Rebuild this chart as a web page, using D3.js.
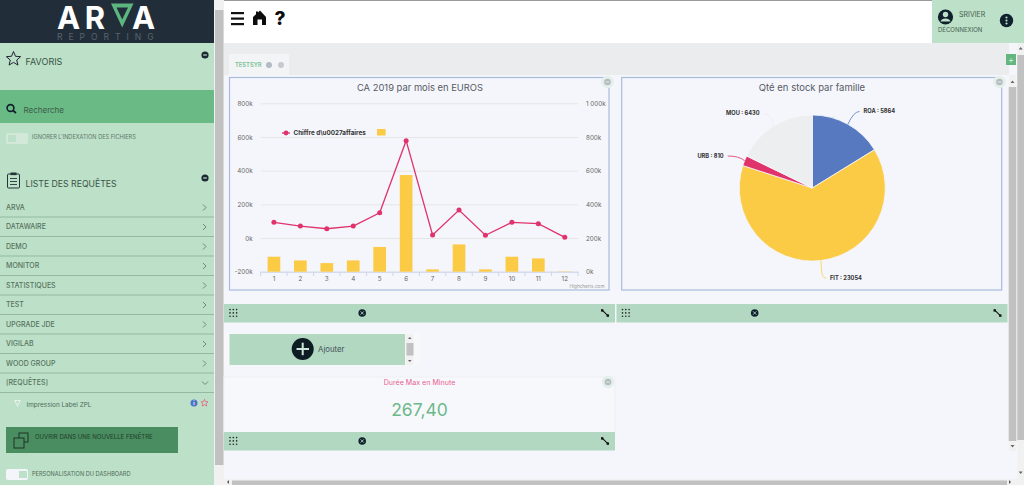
<!DOCTYPE html>
<html><head><meta charset="utf-8">
<script src="https://cdn.jsdelivr.net/npm/d3@7"></script>
<style>html,body{margin:0;padding:0;background:#f5f6fb;overflow:hidden}svg{display:block}text{font-family:Inter,"Noto Sans",sans-serif}</style>
</head><body><svg id="c" width="1024" height="485"></svg>
<script>
const months=["1","2","3","4","5","6","7","8","9","10","11","12"];
const caValues=[93,71,55,71,150,578,18,166,16,93,85,4];
const barValues=[89,67,51,67,147,574,14,162,14,89,79,2];
const leftTicks=[-200,0,200,400,600,800];
const rightTicks=[0,200,400,600,800,1000];
const rightTickLabels=["0k","200k","400k","600k","800k","1 000k"];
const families=["ROA","FIT","URB","MOU"];
const stock=[5864,23054,810,6430];
const familyColors=["#5779c0","#fbcb46","#e0336c","#edeef0"];
const menu=["ARVA","DATAWAIRE","DEMO","MONITOR","STATISTIQUES","TEST","UPGRADE JDE","VIGILAB","WOOD GROUP","[REQUÊTES]"];

const svg=d3.select("#c");
const rect=(x,y,w,h,f,g=svg)=>g.append("rect").attr("x",x).attr("y",y).attr("width",w).attr("height",h).attr("fill",f);
const text=(s,x,y,size,fill,o={},g=svg)=>{const t=g.append("text").attr("x",x).attr("y",y).attr("dy",".35em").attr("font-size",size).attr("fill",fill).text(s);
 Object.entries(o).forEach(([k,v])=>t.attr(k,v));return t;};

/* page shell */
rect(0,0,1024,485,"#f5f6fb");
rect(224,0,708,43,"#ffffff");
rect(224,0,800,1,"#9a9a9a");
rect(932,0,92,43,"#bde0c8");
rect(224,43,785,32,"#ebecee");
rect(229,54,60,21,"#f3f4f6");
text("TESTSYR",235,64.5,5.8,"#7cc297",{"font-weight":600});
svg.append("circle").attr("cx",269).attr("cy",65).attr("r",3).attr("fill","#b4bac6");
svg.append("circle").attr("cx",281).attr("cy",65).attr("r",3).attr("fill","#c6c9cf");
rect(1006,54,10,11,"#62b67e");
text("+",1011,59.5,9,"#d8efdf",{"text-anchor":"middle"});

/* top bar icons */
[13,18.5,24].forEach(y=>rect(231,y-1,13,2.2,"#111"));
svg.append("path").attr("d","M253 25V17L256 14.2V11.5H258V12.4L260 10.5L266 17V25H262V19.5H257.5V25Z").attr("fill","#0c0c0c");
text("?",280,18.5,19,"#0c0c0c",{"text-anchor":"middle","font-weight":800});
svg.append("circle").attr("cx",945.5).attr("cy",17).attr("r",7.6).attr("fill","#10202c");
svg.append("circle").attr("cx",945.5).attr("cy",14.5).attr("r",2.7).attr("fill","#bde0c8");
svg.append("path").attr("d","M940.5 21.5a5.2 4 0 0 1 10 0Z").attr("fill","#bde0c8");
text("SRIVIER",959,14.5,7,"#46604f");
text("DÉCONNEXION",938,30,6,"#46604f");
svg.append("circle").attr("cx",1006.5).attr("cy",20.5).attr("r",6.7).attr("fill","#10202c");
[17.5,20.5,23.5].forEach(y=>svg.append("circle").attr("cx",1006.5).attr("cy",y).attr("r",1.1).attr("fill","#bde0c8"));

/* sidebar */
rect(0,0,214,485,"#bde0c8");
rect(0,0,214,43,"#212e3a");
rect(214,0,10,485,"#f1f1f1");
rect(215,10,8.5,455,"#c1c1c1");
[["A",68.5],["R",95],["A",143.5]].forEach(([l,x])=>text(l,x,28.5,31,"#ffffff",{"text-anchor":"middle","font-weight":700,"dy":0,"font-family":"Liberation Sans"}));
svg.append("path").attr("d","M111 3.5H133.5L122.2 27.5Z M116.5 7.5L122.2 19.5L128 7.5Z").attr("fill","#5cb67e").attr("fill-rule","evenodd");
text("REPORTING",57,37,8.5,"#59636c",{"letter-spacing":"6px"});
const star=(cx,cy,r,stroke,sw)=>{const pts=d3.range(10).map(i=>{const a=i*Math.PI/5,q=i%2?r*.45:r;return [cx+q*Math.sin(a),cy-q*Math.cos(a)];});
 svg.append("path").attr("d","M"+pts.join("L")+"Z").attr("fill","none").attr("stroke",stroke).attr("stroke-width",sw);};
star(13.5,59,7.5,"#223",1);
text("FAVORIS",25.5,61.5,9,"#3a5445");
const minus=(x,y)=>{svg.append("circle").attr("cx",x).attr("cy",y).attr("r",3.6).attr("fill","#1b2a30");rect(x-1.8,y-.6,3.6,1.2,"#bde0c8");};
minus(205,55);minus(205,178);
rect(0,90,214,33,"#6aba85");
svg.append("circle").attr("cx",10.5).attr("cy",108).attr("r",3.4).attr("fill","none").attr("stroke","#10202c").attr("stroke-width",1.6);
svg.append("line").attr("x1",13).attr("y1",110.5).attr("x2",16).attr("y2",113).attr("stroke","#10202c").attr("stroke-width",1.8);
text("Recherche",23.5,110,8,"#3d5a49");
rect(6,133,22,11,"#d2e9da").attr("rx",2);rect(8,135,8,7,"#bde0c8");
text("IGNORER L'INDEXATION DES FICHIERS",32,137,5.6,"#5d7768");
svg.append("rect").attr("x",7.5).attr("y",174).attr("width",12).attr("height",14).attr("rx",1).attr("fill","none").attr("stroke","#24343a").attr("stroke-width",1);
rect(10.5,172.5,6,2.6,"#24343a");
[178,181,184].forEach(y=>rect(10,y,7,.9,"#24343a"));
text("LISTE DES REQUÊTES",25.5,184,8.7,"#3a5445");
const rowY=d3.scalePoint().domain(menu).range([207.5,383]);
menu.forEach((m,i)=>{const y=rowY(m);
 text(m,6,y,7,"#56735f",{"font-weight":500});
 const open=i===menu.length-1;
 svg.append("path").attr("d",open?`M202 ${y-1.5}L205 ${y+1.5}L208 ${y-1.5}`:`M203 ${y-3}L206 ${y}L203 ${y+3}`).attr("fill","none").attr("stroke","#6e8a78").attr("stroke-width",1);
 rect(0,y+9,214,1,"#94b9a2");
});
svg.append("path").attr("d","M14 400H21L17.5 407Z M15.5 401L17.5 405L19.5 401Z").attr("fill","#e7f3ec").attr("fill-rule","evenodd");
text("Impression Label ZPL",26.5,405,6.4,"#4f6c5a");
svg.append("circle").attr("cx",194).attr("cy",403).attr("r",3.5).attr("fill","#4c74c4");
text("i",194,403,5,"#fff",{"text-anchor":"middle","font-weight":700});
star(204.5,403,3.7,"#e0607f",.8);
rect(6,427,172,26,"#4a8d60");
svg.append("rect").attr("x",19).attr("y",433).attr("width",9).attr("height",9).attr("fill","none").attr("stroke","#1c3327");
svg.append("rect").attr("x",14).attr("y",438).attr("width",10,).attr("height",10).attr("fill","#4a8d60").attr("stroke","#1c3327");
text("OUVRIR DANS UNE NOUVELLE FENÊTRE",35,436.5,6.05,"#1f3d2b");
rect(6,469,22,11,"#f3f5fb").attr("rx",2);rect(19,471,8,7,"#bde0c8");
text("PERSONALISATION DU DASHBOARD",32,474,5.65,"#4f6c5a");

/* combined chart */
const frame=(x,y,w,h)=>svg.append("rect").attr("x",x).attr("y",y).attr("width",w).attr("height",h).attr("fill","#f5f6fb").attr("stroke","#a9bcdc").attr("stroke-width",1.2);
frame(229.5,77.5,379.5,212.5);
text("CA 2019 par mois en EUROS",420,87.5,9.4,"#555b66",{"text-anchor":"middle"});
const x=d3.scaleBand().domain(months).range([260.7,578]);
const yL=d3.scaleLinear().domain([-200,800]).range([271.7,103.3]);
const yR=d3.scaleLinear().domain([0,1000]).range([271.7,103.3]);
const gridG=svg.append("g").attr("transform","translate(260.7,0)")
 .call(d3.axisLeft(yL).tickValues(leftTicks).tickSize(-317.3).tickPadding(8).tickFormat(d=>d+"k"));
gridG.select(".domain").remove();
gridG.selectAll(".tick line").attr("stroke","#e6e6e6");
gridG.selectAll("text").attr("font-size",6.3).attr("fill","#666").attr("font-family",null);
const rg=svg.append("g").attr("transform","translate(578,0)")
 .call(d3.axisRight(yR).tickValues(rightTicks).tickSize(0).tickPadding(8).tickFormat((d,i)=>rightTickLabels[i]));
rg.select(".domain").remove();
rg.selectAll("text").attr("font-size",6.3).attr("fill","#666").attr("font-family",null);
const xg=svg.append("g").attr("transform","translate(0,271.7)").call(d3.axisBottom(x).tickSize(0).tickPadding(5));
xg.select(".domain").attr("stroke","#ccd6eb");
xg.selectAll("text").attr("font-size",6.3).attr("fill","#666").attr("font-family",null);
months.concat(["end"]).forEach((m,i)=>{const px=i<12?x(m):x.range()[1];
 svg.append("line").attr("x1",px).attr("x2",px).attr("y1",271.7).attr("y2",276).attr("stroke","#ccd6eb");});
svg.append("g").selectAll("rect").data(barValues).join("rect")
 .attr("x",(d,i)=>x(months[i])+x.bandwidth()*.26).attr("width",x.bandwidth()*.48)
 .attr("y",d=>yR(d)).attr("height",d=>yR(0)-yR(d)).attr("fill","#fbcb46");
const cx=(d,i)=>x(months[i])+x.bandwidth()/2;
svg.append("path").attr("d",d3.line().x(cx).y(d=>yL(d))(caValues)).attr("fill","none").attr("stroke","#e0336c").attr("stroke-width",1.3);
svg.append("g").selectAll("circle").data(caValues).join("circle").attr("cx",cx).attr("cy",d=>yL(d)).attr("r",2.5).attr("fill","#e0336c");
svg.append("line").attr("x1",282).attr("x2",290).attr("y1",133).attr("y2",133).attr("stroke","#e0336c").attr("stroke-width",1.3);
svg.append("circle").attr("cx",286).attr("cy",133).attr("r",2.4).attr("fill","#e0336c");
text("Chiffre d\\u0027affaires",293.5,133,6.3,"#333",{"font-weight":700});
rect(377,129,8.6,6.5,"#fbcb46");
text("Highcharts.com",604.5,286.5,4.7,"#999",{"text-anchor":"end"});

/* pie chart */
frame(621.7,77.5,380,212.5);
text("Qté en stock par famille",812,87.5,9.5,"#555b66",{"text-anchor":"middle"});
const pieG=svg.append("g").attr("transform","translate(812.3,188)");
const arcs=d3.pie().sort(null)(stock);
const R=73, arc=d3.arc().innerRadius(0).outerRadius(R);
pieG.selectAll("path").data(arcs).join("path").attr("d",arc).attr("fill",(d,i)=>familyColors[i]).attr("stroke","#f5f6fb").attr("stroke-width",.8);
const labelPos=[[863.5,111.5,"start"],[830,278,"start"],[723.7,156,"end"],[759.5,113.5,"end"]];
arcs.forEach((a,i)=>{const m=(a.startAngle+a.endAngle)/2,p=[812.3+R*Math.sin(m),188-R*Math.cos(m)];
 const [lx,ly,anc]=labelPos[i],ex=lx+(anc==="start"?-4:4);
 const d=i===1?`M${p} C${p[0]+.5},${ly-8} ${ex-5},${ly} ${ex},${ly}`:`M${p} Q${(p[0]+ex)/2+(anc==="start"?0:3)},${ly} ${ex},${ly}`;
 svg.append("path").attr("d",d).attr("fill","none").attr("stroke",i===3?"#edeef0":familyColors[i]).attr("stroke-width",.8);
 text(`${families[i]} : ${stock[i]}`,lx,ly,5.7,"#333",{"text-anchor":anc,"font-weight":700});
});
const corner=(x0,y0)=>{svg.append("circle").attr("cx",x0).attr("cy",y0).attr("r",6.2).attr("fill","#e4efea");
 svg.append("circle").attr("cx",x0).attr("cy",y0).attr("r",3.3).attr("fill","#b4bcc0");
 rect(x0-1.8,y0-.45,3.6,.9,"#e4efea");};
corner(607.5,82);corner(999.5,82);

/* toolbars */
const toolbar=(x0,y0,w)=>{rect(x0,y0,w,18.5,"#b2d8c2");
 d3.range(3).forEach(a=>d3.range(3).forEach(b=>svg.append("circle").attr("cx",x0+6+a*3.3).attr("cy",y0+5.6+b*3.3).attr("r",.8).attr("fill","#222")));
 const mx=x0+138.2;
 svg.append("circle").attr("cx",mx).attr("cy",y0+9).attr("r",3.8).attr("fill","#10202c");
 svg.append("path").attr("d",`M${mx-1.6} ${y0+7.4}L${mx+1.6} ${y0+10.6}M${mx+1.6} ${y0+7.4}L${mx-1.6} ${y0+10.6}`).attr("stroke","#b2d8c2").attr("stroke-width",.9);
 svg.append("path").attr("d",`M${x0+w-12.8} ${y0+6.2}L${x0+w-7.2} ${y0+11.6}`).attr("stroke","#111").attr("stroke-width",1.1);
 rect(x0+w-14,y0+5.2,2.4,2.4,"#111");rect(x0+w-8.4,y0+10.4,2.4,2.4,"#111");
};
toolbar(224,304,391);toolbar(616.5,304,391);

/* add button */
rect(224,333,196,32.5,"#f8f8fb");
rect(229.5,334,175.5,31,"#b2d8c2");
rect(405.5,334,8,31,"#f1f1f1");
rect(406.5,343,7,12.5,"#c1c1c1");
svg.append("path").attr("d","M409.8 337l1.8 2h-3.6ZM409.8 362l1.8 -2h-3.6Z").attr("fill","#666");
svg.append("circle").attr("cx",302.7).attr("cy",349).attr("r",11).attr("fill","#0d1b22");
rect(296.5,348,12.5,2,"#cfe6d8");rect(301.7,342.7,2,12.5,"#cfe6d8");
text("Ajouter",318,349.5,7.8,"#46535a");

/* KPI tile */
svg.append("rect").attr("x",224).attr("y",377).attr("width",391).attr("height",56).attr("fill","#f7f8fc").attr("stroke","#eeeff3");
text("Durée Max en Minute",419.5,383,7.1,"#e8628f",{"text-anchor":"middle"});
text("267,40",419.5,410,17.5,"#6cb98a",{"text-anchor":"middle"});
corner(608,382);
toolbar(224,432,391);

/* scrollbars */
rect(1008.7,75,7.6,376,"#f1f1f1");
rect(1008.7,87,7.6,354,"#c1c1c1");
svg.append("path").attr("d","M1012.5 80.5l2 2.5h-4ZM1012.5 447.5l2 -2.5h-4Z").attr("fill","#666");
rect(1017.3,43,6.7,442,"#f1f1f1");
rect(1017.3,55,6.7,385,"#c1c1c1");
svg.append("path").attr("d","M1020.7 47l2 2.5h-4ZM1020.7 474l2 -2.5h-4Z").attr("fill","#666");
rect(224,479,793,6,"#f1f1f1");
rect(232,480.5,775,4.5,"#c1c1c1");
svg.append("path").attr("d","M1011 482l-2 -2v4ZM227 482l2 -2v4Z").attr("fill","#555");
</script></body></html>
